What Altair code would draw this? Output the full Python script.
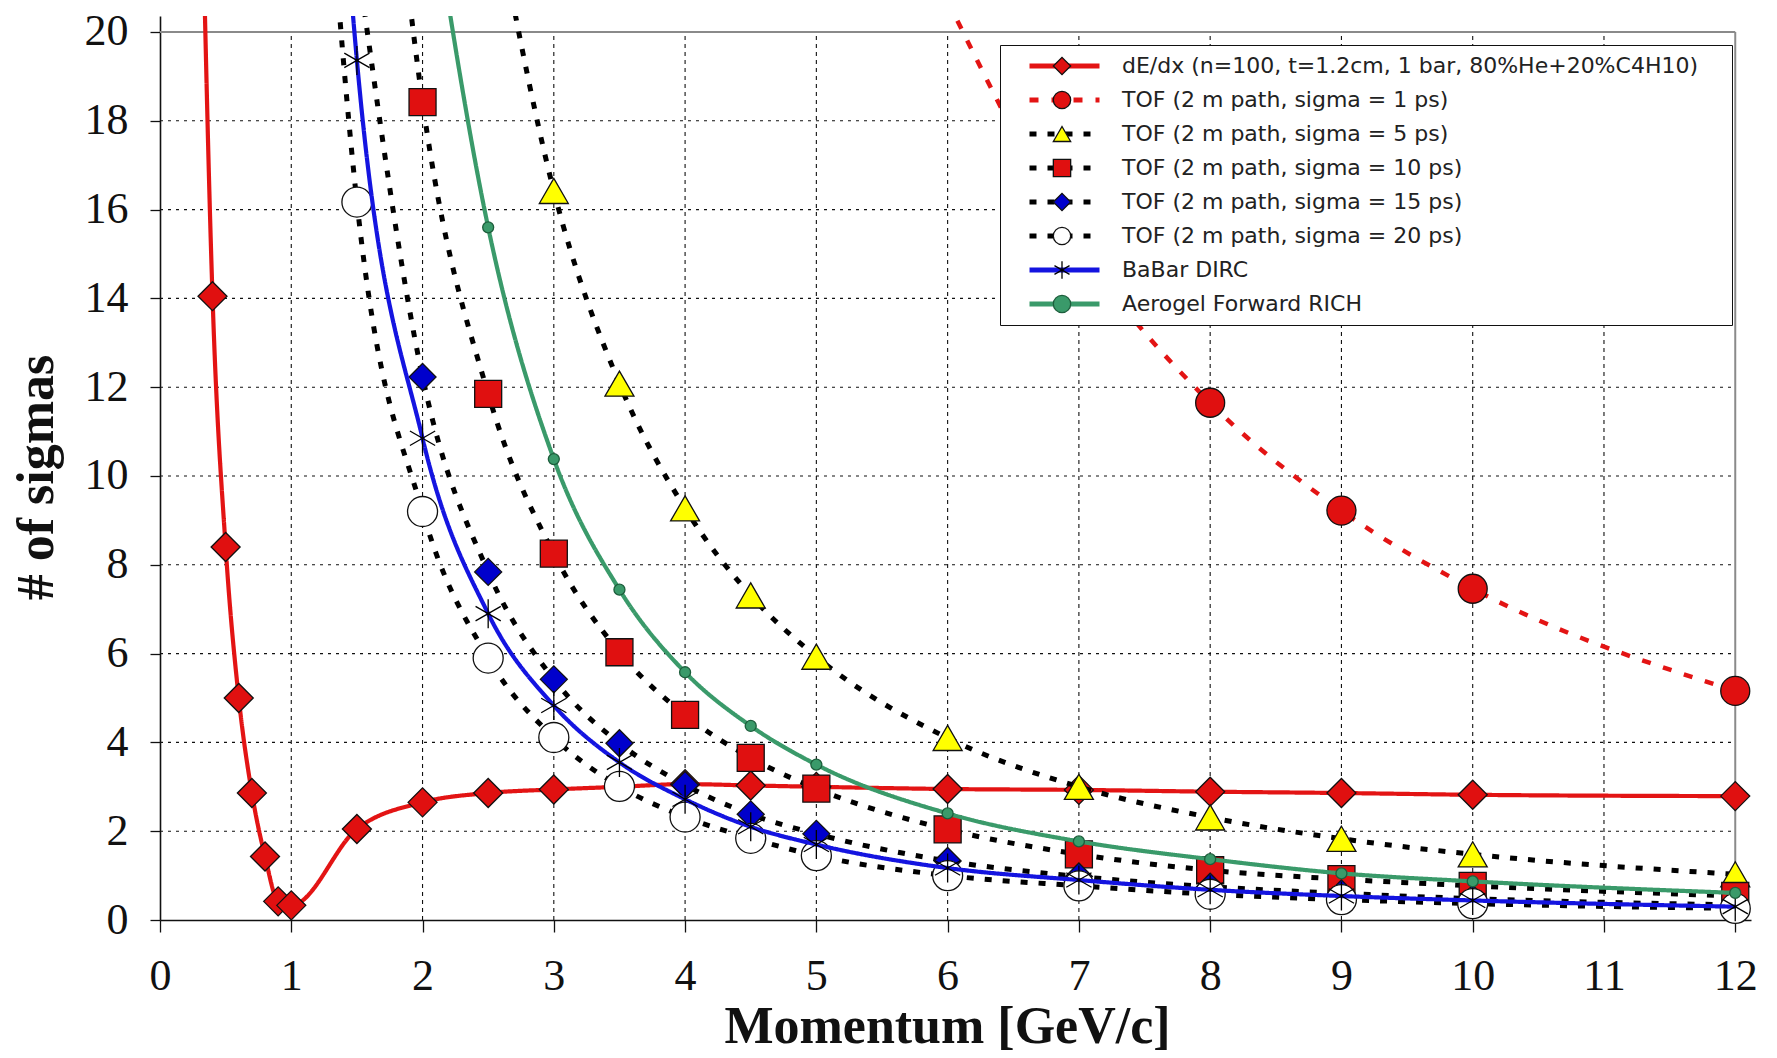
import altair as alt
import pandas as pd

# ---------------- data ----------------
series_names = [
    "dE/dx (n=100, t=1.2cm, 1 bar, 80%He+20%C4H10)",
    "TOF (2 m path, sigma = 1 ps)",
    "TOF (2 m path, sigma = 5 ps)",
    "TOF (2 m path, sigma = 10 ps)",
    "TOF (2 m path, sigma = 15 ps)",
    "TOF (2 m path, sigma = 20 ps)",
    "BaBar DIRC",
    "Aerogel Forward RICH",
]

dedx_p = [0.3, 0.4, 0.5, 0.6, 0.7, 0.8, 0.9, 1.0, 1.5, 2.0, 2.5, 3.0, 3.5, 4.0, 4.5, 5.0, 6, 7, 8, 9, 10, 12]
dedx_v = [26.0, 14.05, 8.4, 5.0, 2.86, 1.43, 0.42, 0.33, 2.05, 2.65, 2.86, 2.94, 3.0, 3.06, 3.03, 3.0, 2.95, 2.93, 2.89, 2.86, 2.82, 2.79]

tof1_p = [6, 7, 8, 9, 10, 12]
tof1_v = [20.7, 15.2, 11.65, 9.22, 7.46, 5.16]

tof5_p = [2.5, 3, 3.5, 4, 4.5, 5, 6, 7, 8, 9, 10, 12]
tof5_v = [23.6, 16.42, 12.08, 9.27, 7.31, 5.93, 4.1, 3.0, 2.31, 1.83, 1.48, 1.03]

tof10_p = [1.5, 2, 2.5, 3, 3.5, 4, 4.5, 5, 6, 7, 8, 9, 10, 12]
tof10_v = [32.8, 18.42, 11.85, 8.25, 6.03, 4.62, 3.65, 2.96, 2.04, 1.48, 1.12, 0.92, 0.77, 0.54]

tof15_p = [1.5, 2, 2.5, 3, 3.5, 4, 4.5, 5, 6, 7, 8, 9, 10, 12]
tof15_v = [21.7, 12.23, 7.84, 5.42, 3.98, 3.04, 2.38, 1.94, 1.33, 0.98, 0.75, 0.6, 0.48, 0.34]

tof20_p = [1.0, 1.5, 2, 2.5, 3, 3.5, 4, 4.5, 5, 6, 7, 8, 9, 10, 12]
tof20_v = [36.4, 16.17, 9.2, 5.9, 4.11, 3.01, 2.32, 1.84, 1.45, 1.0, 0.77, 0.58, 0.46, 0.37, 0.26]

dirc_p = [1.0, 1.5, 2, 2.5, 3, 3.5, 4, 4.5, 5, 6, 7, 8, 9, 10, 12]
dirc_v = [43.6, 19.36, 10.85, 6.9, 4.83, 3.55, 2.72, 2.1, 1.7, 1.17, 0.9, 0.68, 0.54, 0.44, 0.3]

rich_p = [2.0, 2.5, 3, 3.5, 4, 4.5, 5, 6, 7, 8, 9, 10, 12]
rich_v = [24.4, 15.6, 10.38, 7.44, 5.58, 4.37, 3.5, 2.4, 1.77, 1.37, 1.05, 0.87, 0.61]

x_ticks = list(range(0, 13))
y_ticks = list(range(0, 21, 2))
x_grid = list(range(1, 12))
y_grid = list(range(2, 20, 2))

# ---------------- styles ----------------
line_colors = ["#e31414", "#e31414", "#000000", "#000000", "#000000", "#000000", "#1414e0", "#3a9a6a"]
line_dash = [[1, 0], [9, 13], [7, 11], [7, 11], [7, 11], [7, 11], [1, 0], [1, 0]]
line_width = [4.2, 4.5, 5, 5, 5, 5, 4.2, 4.2]
asterisk = "M0,-1L0,1M-0.87,-0.5L0.87,0.5M-0.87,0.5L0.87,-0.5"
pt_shapes = ["diamond", "circle", "triangle-up", "square", "diamond", "circle", asterisk, "circle"]
pt_fill = ["#e01010", "#e01010", "#ffff00", "#e01010", "#0000cc", "#ffffff", "#000000", "#3a9a6a"]
pt_stroke = ["#111111", "#111111", "#111111", "#111111", "#111111", "#111111", "#000000", "#1d5e3c"]
pt_size = [841, 841, 841, 729, 729, 900, 841, 121]

# point legend uses a twin domain (invisible suffix) so that it stays a separate legend
marker_names = [s + "\u200b" for s in series_names]

all_p = [dedx_p, tof1_p, tof5_p, tof10_p, tof15_p, tof20_p, dirc_p, rich_p]
all_v = [dedx_v, tof1_v, tof5_v, tof10_v, tof15_v, tof20_v, dirc_v, rich_v]

rows = []
for i, (ps, vs) in enumerate(zip(all_p, all_v)):
    for p, v in zip(ps, vs):
        rows.append({"series": series_names[i], "series2": marker_names[i], "p": p, "v": v})
df = pd.DataFrame(rows)

XMAX = 12.12
YMAX = 20.36
xscale = alt.Scale(domain=[0, XMAX], nice=False, zero=False)
yscale = alt.Scale(domain=[0, YMAX], nice=False, zero=False)

serif = "Liberation Serif"

x_axis = alt.Axis(
    values=x_ticks, format="d", grid=False, tickSize=12, tickColor="#111", tickWidth=1.3,
    domainColor="#111", domainWidth=1.6, labelFont=serif, labelFontSize=44,
    labelColor="#111", labelPadding=44, labelBaseline="middle", labelFlush=False,
    labelOverlap=False, labelBound=False,
    title="Momentum [GeV/c]", titleFont=serif, titleFontSize=52, titleFontWeight="bold",
    titleColor="#111", titleX=787, titleY=106, titleBaseline="middle", titleAlign="center",
)
y_axis = alt.Axis(
    values=y_ticks, format="d", grid=False, tickSize=10, tickColor="#111", tickWidth=1.3,
    domainColor="#111", domainWidth=1.6, labelFont=serif, labelFontSize=44,
    labelColor="#111", labelPadding=22, labelFlush=False, labelOverlap=False, labelBound=False,
    title="# of sigmas", titleFont=serif, titleFontSize=52, titleFontWeight="bold",
    titleColor="#111", titleAngle=270, titleX=-124, titleY=461,
    titleBaseline="middle", titleAlign="center",
)

# a trailing blank glyph (not trimmed as whitespace) widens the legend frame like the reference
pad = "\u00a0\u2800"
legA = alt.Legend(
    title=None, orient="none", legendX=840, legendY=29, direction="vertical",
    symbolType="stroke", symbolSize=4900, symbolStrokeWidth=5,
    labelFont="DejaVu Sans", labelFontSize=22, labelColor="#222", labelLimit=2000,
    rowPadding=12, padding=10, symbolOffset=17, labelOffset=20, clipHeight=22,
    strokeColor="#111", fillColor="white", zindex=1,
    labelExpr="datum.label + '" + pad + "'",
)
legB = alt.Legend(
    title=None, orient="none", legendX=881, legendY=29, direction="vertical",
    symbolSize=300, symbolStrokeWidth=1.3, symbolOpacity=1,
    labelFontSize=22, labelExpr="''",
    rowPadding=12, padding=10, clipHeight=22, zindex=2,
)

color_scale = alt.Scale(domain=series_names, range=line_colors)
dash_scale = alt.Scale(domain=series_names, range=line_dash)
fill_scale = alt.Scale(domain=marker_names, range=pt_fill)
shape_scale = alt.Scale(domain=marker_names, range=pt_shapes)
stroke_scale = alt.Scale(domain=marker_names, range=pt_stroke)

base = alt.Chart(df)

vgrid = alt.Chart(pd.DataFrame({"gx": x_grid})).mark_rule(
    color="#111", strokeWidth=1.1, strokeDash=[4, 4]
).encode(x=alt.X("gx:Q", scale=xscale, axis=x_axis), y=alt.datum(0), y2=alt.datum(20))

hgrid = alt.Chart(pd.DataFrame({"gy": y_grid})).mark_rule(
    color="#111", strokeWidth=1.1, strokeDash=[3, 5]
).encode(y=alt.Y("gy:Q", scale=yscale, axis=y_axis), x=alt.datum(0), x2=alt.datum(12))

top_frame = alt.Chart(pd.DataFrame({"gy": [20]})).mark_rule(
    color="#8a8a8a", strokeWidth=2
).encode(y=alt.Y("gy:Q", scale=yscale), x=alt.datum(0), x2=alt.datum(12))

right_frame = alt.Chart(pd.DataFrame({"gx": [12]})).mark_rule(
    color="#8a8a8a", strokeWidth=2
).encode(x=alt.X("gx:Q", scale=xscale), y=alt.datum(0), y2=alt.datum(20))

layers = [vgrid, hgrid, top_frame, right_frame]
for i, name in enumerate(series_names):
    ln = base.transform_filter(alt.datum.series == name).mark_line(
        clip=True, interpolate="monotone", strokeWidth=line_width[i]
    ).encode(
        x=alt.X("p:Q", scale=xscale),
        y=alt.Y("v:Q", scale=yscale),
        color=alt.Color("series:N", scale=color_scale, legend=legA),
        strokeDash=alt.StrokeDash("series:N", scale=dash_scale, legend=legA),
        order=alt.Order("p:Q"),
    )
    pt = base.transform_filter(
        (alt.datum.series == name) & (alt.datum.v <= YMAX + 0.05)
    ).mark_point(
        filled=True, opacity=1, size=pt_size[i],
        strokeWidth=1.3, strokeOpacity=1
    ).encode(
        x=alt.X("p:Q", scale=xscale),
        y=alt.Y("v:Q", scale=yscale),
        fill=alt.Fill("series2:N", scale=fill_scale, legend=legB),
        shape=alt.Shape("series2:N", scale=shape_scale, legend=legB),
        stroke=alt.Stroke("series2:N", scale=stroke_scale, legend=legB),
    )
    layers += [ln, pt]

chart = alt.layer(*layers).properties(
    width=1591, height=904,
    autosize=alt.AutoSizeParams(type="none"),
    padding={"left": 152, "top": 8, "right": 10, "bottom": 136},
    background="white",
).configure_view(stroke=None)

chart.save("out.html", embed_options={"renderer": "svg", "actions": False})
